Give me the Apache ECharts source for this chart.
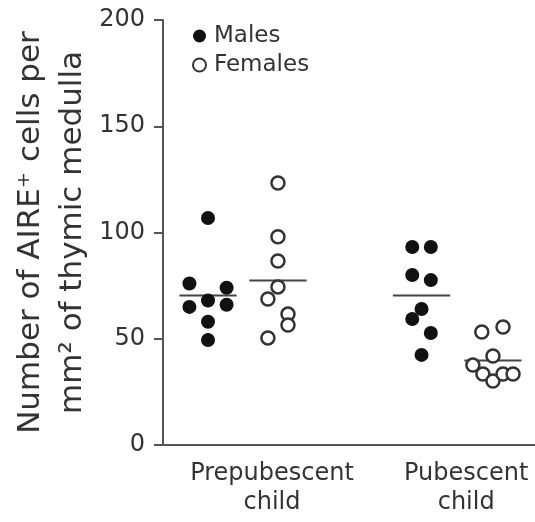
<!DOCTYPE html>
<html>
<head>
<meta charset="utf-8">
<script src="https://cdn.jsdelivr.net/npm/echarts@6/dist/echarts.min.js"></script>
<style>html,body{margin:0;padding:0;background:#fff}#c{width:535px;height:522px}</style>
</head>
<body>
<div id="c"></div>
<script>
// ---- data ----
const groupLabels = ['Prepubescent\nchild', 'Pubescent\nchild'];
const groupLabelPos = [2.93, 8.15];
const yTicks = [0, 50, 100, 150, 200];
const yTitle = 'Number of AIRE\u207A cells per\nmm\u00B2 of thymic medulla';

// group centres on the x scale: [prepubescent, pubescent]
const malesCenters = [1.21, 6.95];
const femalesCenters = [3.09, 8.87];

const malesPre = [106.8, 76, 74, 68, 65, 66, 58, 49.4];
const malesPreJitter = [0, -0.5, 0.5, 0, -0.5, 0.5, 0, 0];
const femalesPre = [123.3, 98, 86.6, 74.4, 68.7, 61.6, 56.5, 50.4];
const femalesPreJitter = [0, 0, 0, 0, -0.27, 0.27, 0.27, -0.27];
const malesPub = [93.2, 93.2, 80, 77.6, 64, 59.3, 52.7, 42.4];
const malesPubJitter = [-0.25, 0.25, -0.25, 0.25, 0, -0.25, 0.25, 0];
const femalesPub = [53.2, 55.5, 41.9, 37.6, 33.4, 30.1, 33.4, 33.4];
const femalesPubJitter = [-0.3, 0.27, 0, -0.54, -0.27, 0, 0.27, 0.54];

// ---- build ----
const FONT = 'DejaVu Sans';
const TXT = '#333';
const mean = a => a.reduce((s, v) => s + v, 0) / a.length;
const pts = (vals, jit, c) => vals.map((v, i) => [c + jit[i], v]);
const half = 0.77;
const meanLine = (vals, c) => ({
  type: 'line', data: [[c - half, mean(vals)], [c + half, mean(vals)]],
  symbol: 'none', silent: true, z: 1,
  lineStyle: { color: '#444', width: 2 }
});
const labelFor = v => {
  const i = groupLabelPos.findIndex(p => Math.abs(p - Number(v)) < 1e-6);
  return i >= 0 ? groupLabels[i] : '';
};

const chart = echarts.init(document.getElementById('c'), null, { renderer: 'canvas' });
chart.setOption({
  animation: false,
  backgroundColor: '#fff',
  textStyle: { fontFamily: FONT },
  grid: { left: 163, right: 0, top: 20, bottom: 77, containLabel: false, outerBoundsMode: 'none' },
  legend: {
    orient: 'vertical', left: 192, top: 23, itemGap: 3, padding: 0,
    itemWidth: 13, itemHeight: 13,
    data: [{ name: 'Males', icon: 'circle' }, { name: 'Females', icon: 'circle' }],
    textStyle: { fontFamily: FONT, fontSize: 23, color: TXT, lineHeight: 26, padding: [0, 0, 0, 3] }
  },
  xAxis: {
    type: 'value', min: 0, max: 10,
    axisLine: { show: true, lineStyle: { color: '#555', width: 2 } },
    axisTick: { show: false },
    splitLine: { show: false },
    axisLabel: {
      customValues: groupLabelPos,
      formatter: labelFor,
      fontFamily: FONT, fontSize: 24, color: TXT, lineHeight: 29, margin: 14
    }
  },
  yAxis: {
    type: 'value', min: yTicks[0], max: yTicks[yTicks.length - 1], interval: 50,
    axisLine: { show: true, lineStyle: { color: '#555', width: 2 } },
    axisTick: { show: true, length: 9, lineStyle: { color: '#555', width: 2 } },
    splitLine: { show: false },
    axisLabel: { fontFamily: FONT, fontSize: 24, color: TXT, margin: 18 },
    name: yTitle,
    nameLocation: 'middle', nameRotate: 90, nameGap: 69, nameMoveOverlap: false,
    nameTextStyle: { color: TXT, fontFamily: FONT, fontSize: 31, lineHeight: 42 }
  },
  series: [
    {
      name: 'Males', type: 'scatter', symbol: 'circle', symbolSize: 14, z: 3,
      itemStyle: { color: '#111', opacity: 1 },
      data: pts(malesPre, malesPreJitter, malesCenters[0]).concat(pts(malesPub, malesPubJitter, malesCenters[1]))
    },
    {
      name: 'Females', type: 'scatter', symbol: 'circle', symbolSize: 13, z: 3,
      itemStyle: { color: '#fff', borderColor: '#333', borderWidth: 2.5, opacity: 1 },
      data: pts(femalesPre, femalesPreJitter, femalesCenters[0]).concat(pts(femalesPub, femalesPubJitter, femalesCenters[1]))
    },
    meanLine(malesPre, malesCenters[0]),
    meanLine(femalesPre, femalesCenters[0]),
    meanLine(malesPub, malesCenters[1]),
    meanLine(femalesPub, femalesCenters[1])
  ]
});
</script>
</body>
</html>
